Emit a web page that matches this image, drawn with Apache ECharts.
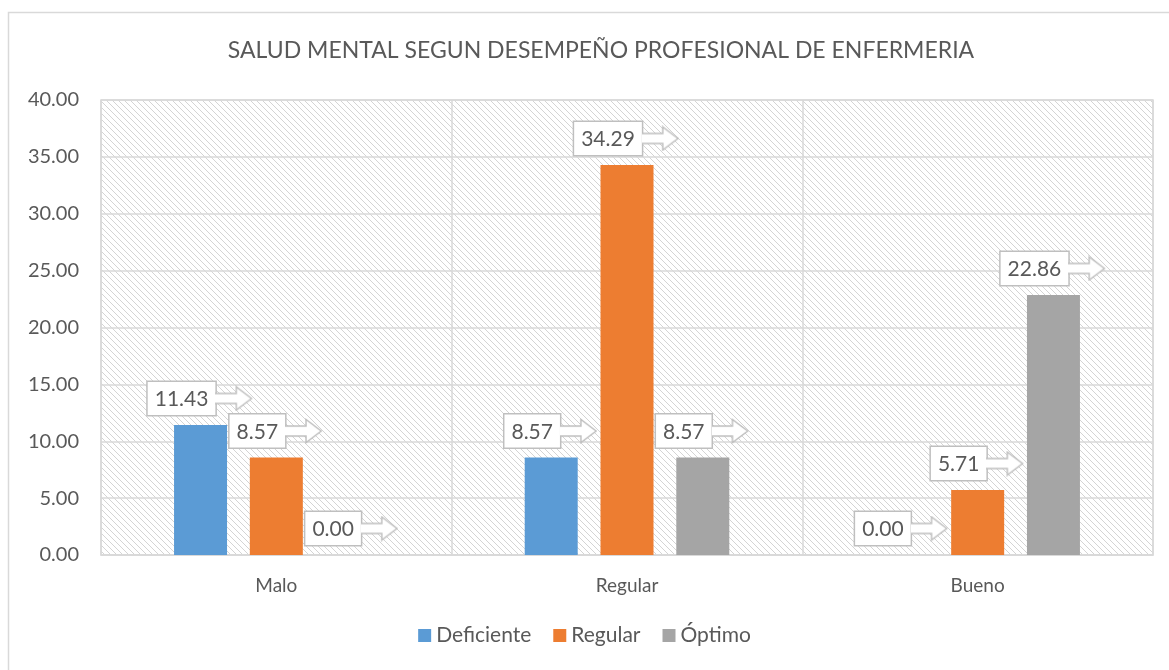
<!DOCTYPE html>
<html>
<head>
<meta charset="utf-8">
<script src="https://cdn.jsdelivr.net/npm/echarts@6/dist/echarts.min.js"></script>
<style>
  html, body { margin: 0; padding: 0; background: #fff; }
  #chart { width: 1169px; height: 670px; }
</style>
</head>
<body>
<div id="chart"></div>
<script>
// datos
let categorias = ['Malo', 'Regular', 'Bueno']
let deficiente = [11.43, 8.57, 0.00]
let regular = [8.57, 34.29, 5.71]
let optimo = [0.00, 8.57, 22.86]
let nombres = ['Deficiente', 'Regular', 'Óptimo']
let colores = ['#5B9BD5', '#ED7D31', '#A5A5A5']

let fuente = 'Lato, "Open Sans", sans-serif'

// fondo rayado del area de trazado
function rayado() {
    let c = document.createElement('canvas')
    c.width = 6
    c.height = 6
    let ctx = c.getContext('2d')
    ctx.fillStyle = '#fff'
    ctx.fillRect(0, 0, 6, 6)
    ctx.strokeStyle = '#d4d4d4'
    ctx.lineWidth = 1
    ctx.beginPath()
    ctx.moveTo(-1, -1); ctx.lineTo(7, 7)
    ctx.moveTo(-1, 5); ctx.lineTo(1, 7)
    ctx.moveTo(5, -1); ctx.lineTo(7, 1)
    ctx.stroke()
    return c
}

// flecha de la etiqueta (llamada)
function flecha() {
    let c = document.createElement('canvas')
    c.width = 40
    c.height = 26
    let ctx = c.getContext('2d')
    ctx.fillStyle = '#fff'
    ctx.strokeStyle = '#bfbfbf'
    ctx.lineWidth = 1.5
    ctx.beginPath()
    ctx.moveTo(0, 8)
    ctx.lineTo(22, 8)
    ctx.lineTo(22, 1.5)
    ctx.lineTo(38, 13)
    ctx.lineTo(22, 24.5)
    ctx.lineTo(22, 18)
    ctx.lineTo(0, 18)
    ctx.fill()
    ctx.stroke()
    return c
}

let imgFlecha = flecha().toDataURL()

let etiqueta = {
    show: true,
    position: 'top',
    distance: 10,
    formatter: p => '{b|' + p.value.toFixed(2) + '}{a|}',
    rich: {
        b: {
            fontFamily: fuente,
            fontSize: 21,
            color: '#595959',
            backgroundColor: '#fff',
            borderColor: '#bfbfbf',
            borderWidth: 1.5,
            padding: [7, 7, 5, 7]
        },
        a: {
            width: 38,
            height: 26,
            backgroundColor: { image: imgFlecha }
        }
    }
}

function serie(nombre, datos, i) {
    return {
        name: nombre,
        type: 'bar',
        barWidth: 53,
        barGap: '43%',
        itemStyle: { color: colores[i] },
        label: etiqueta,
        data: datos
    }
}

let myChart = echarts.init(document.getElementById('chart'))
let option = {
    animation: false,
    textStyle: { fontFamily: fuente },
    title: {
        text: 'SALUD MENTAL SEGUN DESEMPEÑO PROFESIONAL DE ENFERMERIA',
        left: 596,
        top: 34,
        textAlign: 'center',
        textStyle: { fontFamily: fuente, fontSize: 23, fontWeight: 'normal', color: '#595959' }
    },
    graphic: [{
        type: 'rect',
        shape: { x: 8.5, y: 12.5, width: 1300, height: 800 },
        style: { fill: null, stroke: '#d9d9d9', lineWidth: 1.5 },
        silent: true
    }],
    legend: {
        data: nombres,
        bottom: 19,
        left: 'center',
        itemWidth: 13,
        itemHeight: 13,
        itemGap: 22,
        icon: 'rect',
        textStyle: { fontFamily: fuente, fontSize: 21, color: '#595959' }
    },
    grid: {
        left: 101,
        right: 16,
        top: 100,
        bottom: 115,
        show: true,
        backgroundColor: { image: rayado(), repeat: 'repeat' },
        borderColor: '#d9d9d9',
        borderWidth: 1.5
    },
    xAxis: {
        type: 'category',
        data: categorias,
        axisLine: { lineStyle: { color: '#d9d9d9', width: 1.5 } },
        axisTick: { show: false },
        splitLine: { show: true, lineStyle: { color: '#d9d9d9', width: 1.5 } },
        axisLabel: { fontFamily: fuente, fontSize: 19, color: '#595959', margin: 21 }
    },
    yAxis: {
        type: 'value',
        min: 0,
        max: 40,
        interval: 5,
        axisLine: { show: false },
        axisTick: { show: false },
        splitLine: { lineStyle: { color: '#d9d9d9', width: 1.5 } },
        axisLabel: {
            fontFamily: fuente, fontSize: 20, color: '#595959', margin: 22,
            formatter: v => v.toFixed(2)
        }
    },
    series: [
        serie(nombres[0], deficiente, 0),
        serie(nombres[1], regular, 1),
        serie(nombres[2], optimo, 2)
    ]
}
myChart.setOption(option)
</script>
</body>
</html>
